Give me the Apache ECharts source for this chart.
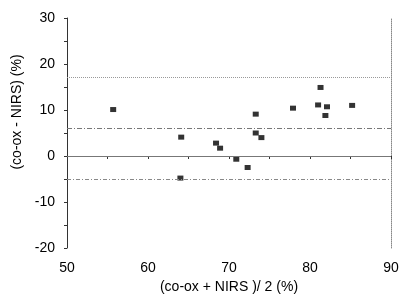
<!DOCTYPE html>
<html><head><meta charset="utf-8">
<script src="https://cdn.jsdelivr.net/npm/echarts@6/dist/echarts.min.js"></script>
<style>html,body{margin:0;padding:0;background:#fff}#c{width:411px;height:305px}</style>
</head><body><div id="c"></div>
<script>
const meanX = [55.7, 64.1, 64.0, 68.4, 68.9, 70.9, 72.3, 73.3, 73.3, 74.0, 77.9, 81.0, 81.3, 81.9, 82.1, 85.2];
const diffY = [10.1, 4.1, -4.8, 2.8, 1.7, -0.7, -2.5, 9.1, 5.0, 4.0, 10.4, 11.1, 14.9, 8.8, 10.7, 11.0];
const refLines = { upper: 17.2, mean: 6.1, zero: 0, lower: -5.0 };
const xTicks = [50, 60, 70, 80, 90];
const yTicks = [-20, -10, 0, 10, 20, 30];
const xName = '(co-ox + NIRS )/ 2 (%)';
const yName = '(co-ox - NIRS) (%)';

const font = 'Liberation Sans, Arial, sans-serif';
const chart = echarts.init(document.getElementById('c'), null, {renderer: 'canvas'});
const pts = meanX.map((x, i) => [x, diffY[i]]);
chart.setOption({
  animation: false,
  backgroundColor: '#fff',
  grid: {left: 67, right: 20, top: 18, bottom: 57},
  xAxis: [{
    type: 'value', min: xTicks[0], max: xTicks[xTicks.length-1], interval: 10,
    name: xName, nameLocation: 'middle', nameGap: 27,
    nameTextStyle: {fontFamily: font, fontSize: 14, color: '#000'},
    axisLine: {lineStyle: {color: '#333', width: 1}},
    axisTick: {show: true, length: 3, lineStyle: {color: '#333'}},
    minorTick: {show: true, splitNumber: 2, length: 3, lineStyle: {color: '#333'}},
    axisLabel: {fontFamily: font, fontSize: 14, color: '#000', margin: 13},
    splitLine: {show: false}
  }, {
    type: 'value', position: 'top', min: 50, max: 90,
    axisLine: {show: true, lineStyle: {color: '#888', type: 'dotted', width: 1}},
    axisTick: {show: false}, axisLabel: {show: false}, splitLine: {show: false}
  }],
  yAxis: [{
    type: 'value', min: yTicks[0], max: yTicks[yTicks.length-1], interval: 10,
    name: yName, nameLocation: 'middle', nameGap: 30, nameRotate: 90,
    nameTextStyle: {fontFamily: font, fontSize: 14, color: '#000', padding: [0, 0, 0, 42]},
    axisLine: {show: true, lineStyle: {color: '#333', width: 1}},
    axisTick: {show: true, length: 3, lineStyle: {color: '#333'}},
    minorTick: {show: true, splitNumber: 2, length: 3, lineStyle: {color: '#333'}},
    axisLabel: {fontFamily: font, fontSize: 14, color: '#000', margin: 12},
    splitLine: {show: false}
  }, {
    type: 'value', position: 'right', min: -20, max: 30,
    axisLine: {show: true, lineStyle: {color: '#888', type: 'dotted', width: 1}},
    axisTick: {show: false}, axisLabel: {show: false}, splitLine: {show: false}
  }],
  series: [{
    type: 'scatter', data: pts, symbol: 'rect', symbolSize: [6, 5],
    itemStyle: {color: '#000'},
    markLine: {
      silent: true, symbol: 'none', label: {show: false},
      data: [
        {yAxis: refLines.upper, lineStyle: {color: '#999', type: 'dotted', width: 1}},
        {yAxis: refLines.mean, lineStyle: {color: '#777', type: [5, 2, 1, 2], width: 1}},
        {yAxis: refLines.zero, lineStyle: {color: '#777', type: 'solid', width: 1}},
        {yAxis: refLines.lower, lineStyle: {color: '#888', type: [4, 2, 1, 2], width: 1}}
      ]
    }
  }]
});
</script></body></html>
